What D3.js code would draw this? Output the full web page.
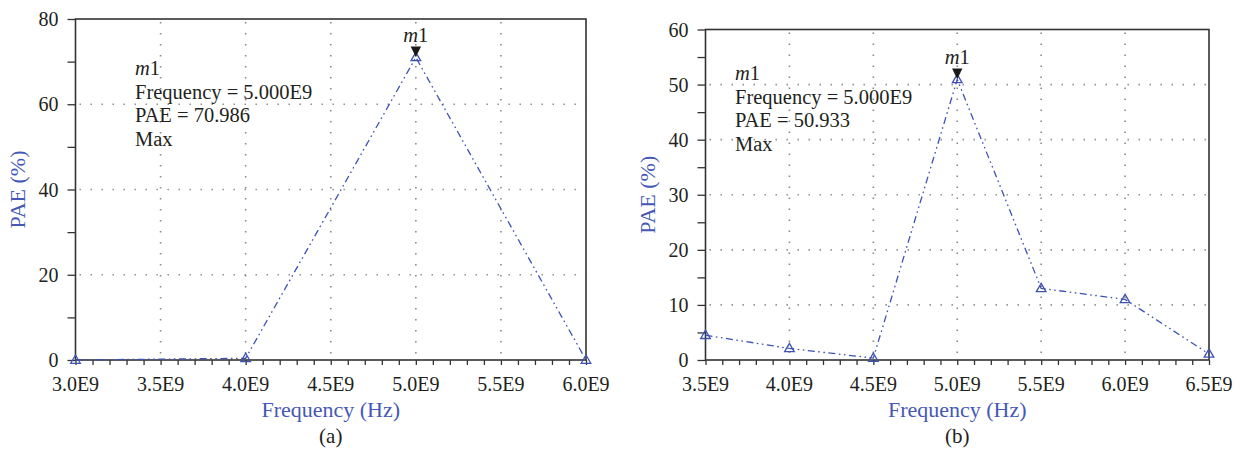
<!DOCTYPE html>
<html>
<head>
<meta charset="utf-8">
<script src="https://cdn.jsdelivr.net/npm/d3@7"></script>
</head>
<body style="margin:0">
<svg id="chart" width="1244" height="468" style="display:block"></svg>
<script>
// Panel (a): PAE versus frequency
const freqA = [3.0e9, 4.0e9, 5.0e9, 6.0e9];
const paeA = [0.0, 0.4, 70.986, 0.0];
const xTicksA = [3.0e9, 3.5e9, 4.0e9, 4.5e9, 5.0e9, 5.5e9, 6.0e9];
const yTicksA = [0, 20, 40, 60, 80];

// Panel (b): PAE versus frequency
const freqB = [3.5e9, 4.0e9, 4.5e9, 5.0e9, 5.5e9, 6.0e9, 6.5e9];
const paeB = [4.5, 2.1, 0.35, 50.933, 13.0, 11.0, 1.1];
const xTicksB = [3.5e9, 4.0e9, 4.5e9, 5.0e9, 5.5e9, 6.0e9, 6.5e9];
const yTicksB = [0, 10, 20, 30, 40, 50, 60];

// Marker readouts
const markerA = { name: "m1", freq: 5.0e9, pae: 70.986 };
const markerB = { name: "m1", freq: 5.0e9, pae: 50.933 };

const BLUE = "#3d52b3";
const TITLE_BLUE = "#4558b5";
const INK = "#231f20";
const FRAME = "#333333";

const svg = d3.select("#chart");
const fmtFreq = d => (d / 1e9).toFixed(1) + "E9";

// every text of the figure: serif face, given size and colour
function label(sel, size, color) {
  sel.attr("font-size", size)
    .attr("fill", color)
    .style("font-family", "'Liberation Serif'");
}

function drawPanel(opt) {
  const x = d3.scaleLinear().domain(opt.xDomain).range([opt.left, opt.right]);
  const y = d3.scaleLinear().domain(opt.yDomain).range([opt.bottom, opt.top]);
  const g = svg.append("g");

  // dotted grid at interior major ticks
  const grid = g.append("g")
    .attr("stroke", "#8a8a8a")
    .attr("stroke-width", 1.6)
    .attr("stroke-dasharray", "1.4,9.6")
    .attr("fill", "none");
  opt.xTicks.slice(1, -1).forEach(t => {
    grid.append("line")
      .attr("x1", x(t)).attr("x2", x(t))
      .attr("y1", opt.top + 3).attr("y2", opt.bottom);
  });
  opt.yTicks.slice(1, -1).forEach(t => {
    grid.append("line")
      .attr("x1", opt.left + 4).attr("x2", opt.right)
      .attr("y1", y(t)).attr("y2", y(t));
  });

  // x axis: minor ticks every 0.1E9 pointing down
  const minorX = d3.range(opt.xDomain[0], opt.xDomain[1] + 1, 1e8);
  const gx = g.append("g")
    .attr("transform", `translate(0,${opt.bottom})`)
    .call(d3.axisBottom(x).tickValues(minorX).tickSize(5).tickFormat(""));
  gx.select(".domain").remove();
  gx.selectAll(".tick text").remove();
  gx.selectAll(".tick line").attr("stroke", FRAME).attr("stroke-width", 1.3);

  // y axis: ticks at every half step pointing left
  const step = opt.yTicks[1] - opt.yTicks[0];
  const minorY = d3.range(opt.yDomain[0], opt.yDomain[1] + 0.001, step / 2);
  const gy = g.append("g")
    .attr("transform", `translate(${opt.left},0)`)
    .call(d3.axisLeft(y).tickValues(minorY).tickSize(8).tickFormat(""));
  gy.select(".domain").remove();
  gy.selectAll(".tick text").remove();
  gy.selectAll(".tick line").attr("stroke", FRAME).attr("stroke-width", 1.3);

  // frame
  g.append("rect")
    .attr("x", opt.left).attr("y", opt.top)
    .attr("width", opt.right - opt.left)
    .attr("height", opt.bottom - opt.top)
    .attr("fill", "none")
    .attr("stroke", FRAME)
    .attr("stroke-width", 1.6);

  // series line (dash-dot-dot)
  const pts = opt.freq.map((f, i) => [f, opt.pae[i]]);
  const line = d3.line().x(d => x(d[0])).y(d => y(d[1]));
  g.append("path")
    .datum(pts)
    .attr("d", line)
    .attr("fill", "none")
    .attr("stroke", BLUE)
    .attr("stroke-width", 1.3)
    .attr("stroke-dasharray", "7,3.5,1.6,3.5,1.6,3.5");

  // open triangle markers
  const tri = d3.symbol().type(d3.symbolTriangle).size(40);
  g.append("g").selectAll("path")
    .data(pts)
    .join("path")
    .attr("d", tri)
    .attr("transform", d => `translate(${x(d[0])},${y(d[1]) + 0.5})`)
    .attr("fill", "none")
    .attr("stroke", BLUE)
    .attr("stroke-width", 1.3);

  // marker m1: filled downward triangle with its tip on the point
  const mx = x(opt.marker.freq), my = y(opt.marker.pae);
  g.append("path")
    .attr("d", `M${mx - 5.2},${my - 11} L${mx + 5.2},${my - 11} L${mx},${my - 0.5} Z`)
    .attr("fill", "#1a1a1a");

  // tick labels
  svg.selectAll(null)
    .data(opt.xTicks)
    .join("text")
    .attr("x", d => x(d))
    .attr("y", opt.bottom + 31)
    .attr("text-anchor", "middle")
    .call(label, 20, INK)
    .text(fmtFreq);

  svg.selectAll(null)
    .data(opt.yTicks)
    .join("text")
    .attr("x", opt.left - 17)
    .attr("y", d => y(d) + 7)
    .attr("text-anchor", "end")
    .call(label, 20, INK)
    .text(d => d);

  const mLabel = svg.append("text")
    .attr("x", mx)
    .attr("y", my - 15.5)
    .attr("text-anchor", "middle")
    .call(label, 20.5, INK);
  mLabel.append("tspan").style("font-style", "italic").text("m");
  mLabel.append("tspan").text("1");

  // marker readout
  const rx = opt.readoutX, ry = opt.readoutY;
  const r0 = svg.append("text").attr("x", rx).attr("y", ry).call(label, 20.5, INK);
  r0.append("tspan").style("font-style", "italic").text("m");
  r0.append("tspan").text("1");
  const lines = [
    "Frequency = " + (opt.marker.freq / 1e9).toFixed(3) + "E9",
    "PAE = " + opt.marker.pae.toFixed(3),
    "Max"
  ];
  svg.selectAll(null)
    .data(lines)
    .join("text")
    .attr("x", rx)
    .attr("y", (s, i) => ry + 23.5 * (i + 1))
    .call(label, 20.5, INK)
    .text(s => s);

  // axis titles
  const cx = (opt.left + opt.right) / 2;
  svg.append("text")
    .attr("x", cx)
    .attr("y", opt.bottom + 57)
    .attr("text-anchor", "middle")
    .call(label, 22, TITLE_BLUE)
    .text("Frequency (Hz)");
  svg.append("text")
    .attr("transform", `translate(${opt.yTitleX},${(opt.top + opt.bottom) / 2}) rotate(-90)`)
    .attr("text-anchor", "middle")
    .call(label, 22, TITLE_BLUE)
    .text("PAE (%)");

  // panel caption
  svg.append("text")
    .attr("x", cx)
    .attr("y", opt.bottom + 83)
    .attr("text-anchor", "middle")
    .call(label, 21, INK)
    .text(opt.caption);
}

drawPanel({
  left: 75.5, right: 586, top: 19, bottom: 360,
  xDomain: [3.0e9, 6.0e9], yDomain: [0, 80],
  xTicks: xTicksA, yTicks: yTicksA,
  freq: freqA, pae: paeA, marker: markerA,
  readoutX: 135, readoutY: 75, yTitleX: 25, caption: "(a)"
});

drawPanel({
  left: 705.5, right: 1209, top: 29.5, bottom: 360,
  xDomain: [3.5e9, 6.5e9], yDomain: [0, 60],
  xTicks: xTicksB, yTicks: yTicksB,
  freq: freqB, pae: paeB, marker: markerB,
  readoutX: 735, readoutY: 80, yTitleX: 655, caption: "(b)"
});
</script>
</body>
</html>
